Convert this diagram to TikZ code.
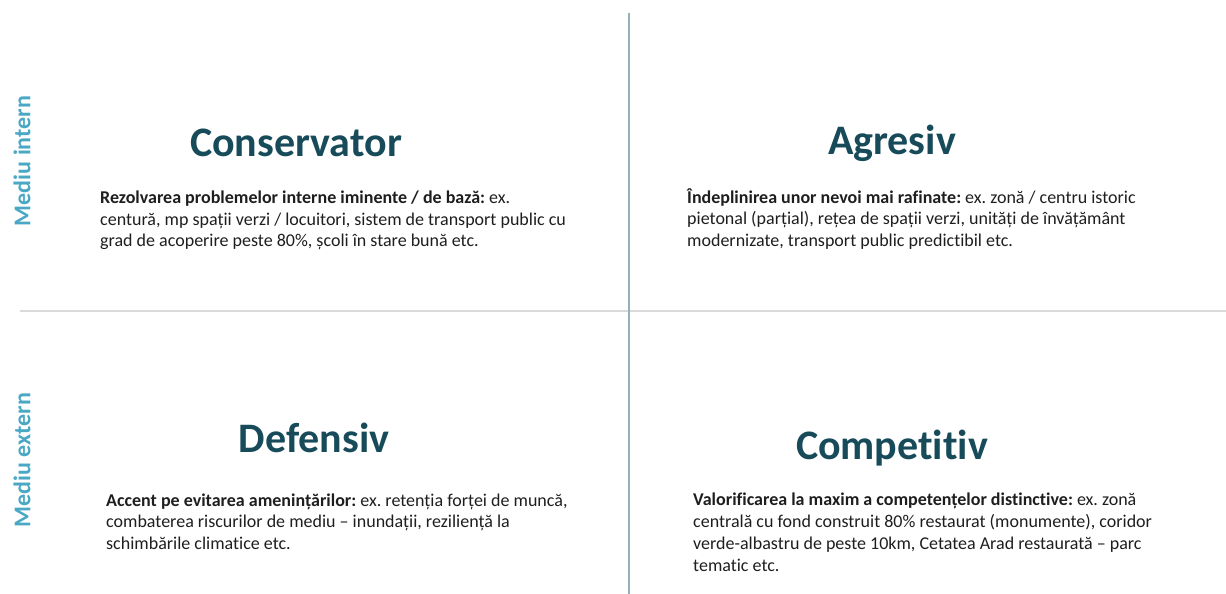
\documentclass[tikz,border=0pt]{standalone}
\usepackage{fontspec}
\setmainfont[Ligatures=NoCommon]{Carlito}
\frenchspacing
\definecolor{titlecol}{HTML}{184B5A}
\definecolor{labelcol}{HTML}{4AA8C4}
\definecolor{vline}{HTML}{93B1B6}
\definecolor{hline}{HTML}{DADADA}
\definecolor{bodycol}{HTML}{1E1E1E}
\newcommand{\topstrut}{\rule{0pt}{17pt}}
\tikzset{
  titlenode/.style={font=\fontsize{42}{50}\selectfont\bfseries, text=titlecol, inner sep=0pt, anchor=center},
  bodynode/.style={font=\fontsize{18}{21.7}\selectfont\frenchspacing, text=bodycol, inner sep=0pt, anchor=north west, align=left},
  sidelabel/.style={font=\fontsize{24}{28}\selectfont\bfseries, text=labelcol, inner sep=0pt, rotate=90, anchor=center},
}
\begin{document}
\begin{tikzpicture}[x=1pt,y=-1pt]
\useasboundingbox (0,0) rectangle (1226,594);
\coordinate (vtop) at (629,13);
\coordinate (vbot) at (629,594);
\coordinate (hleft) at (20,311);
\coordinate (hright) at (1226,311);
\draw[hline, line width=1.6pt] (hleft) -- (hright);
\draw[vline, line width=2pt] (vtop) -- (vbot);

\node[sidelabel] (lint) at (22,161) {Mediu intern};
\node[sidelabel] (lext) at (22,460) {Mediu extern};

\node[titlenode] (tcons) at (296,143) {Conservator};
\node[titlenode] (tagr) at (892,143) {Agresiv};
\node[titlenode] (tdef) at (314,438) {Defensiv};
\node[titlenode] (tcomp) at (892,448) {Competitiv};

\node[bodynode] (bcons) at (100,186.3) {\topstrut\textbf{Rezolvarea problemelor interne iminente / de bază:} ex.\\centură, mp spații verzi / locuitori, sistem de transport public cu\\grad de acoperire peste 80\%, școli în stare bună etc.};
\node[bodynode] (bagr) at (687,186) {\topstrut\textbf{Îndeplinirea unor nevoi mai rafinate:} ex. zonă / centru istoric\\pietonal (parțial), rețea de spații verzi, unități de învățământ\\modernizate, transport public predictibil etc.};
\node[bodynode] (bdef) at (106,489) {\topstrut\textbf{Accent pe evitarea amenințărilor:} ex. retenția forței de muncă,\\combaterea riscurilor de mediu – inundații, reziliență la\\schimbările climatice etc.};
\node[bodynode] (bcomp) at (693,488.7) {\topstrut\textbf{Valorificarea la maxim a competențelor distinctive:} ex. zonă\\centrală cu fond construit 80\% restaurat (monumente), coridor\\verde-albastru de peste 10km, Cetatea Arad restaurată – parc\\tematic etc.};
\end{tikzpicture}
\end{document}
